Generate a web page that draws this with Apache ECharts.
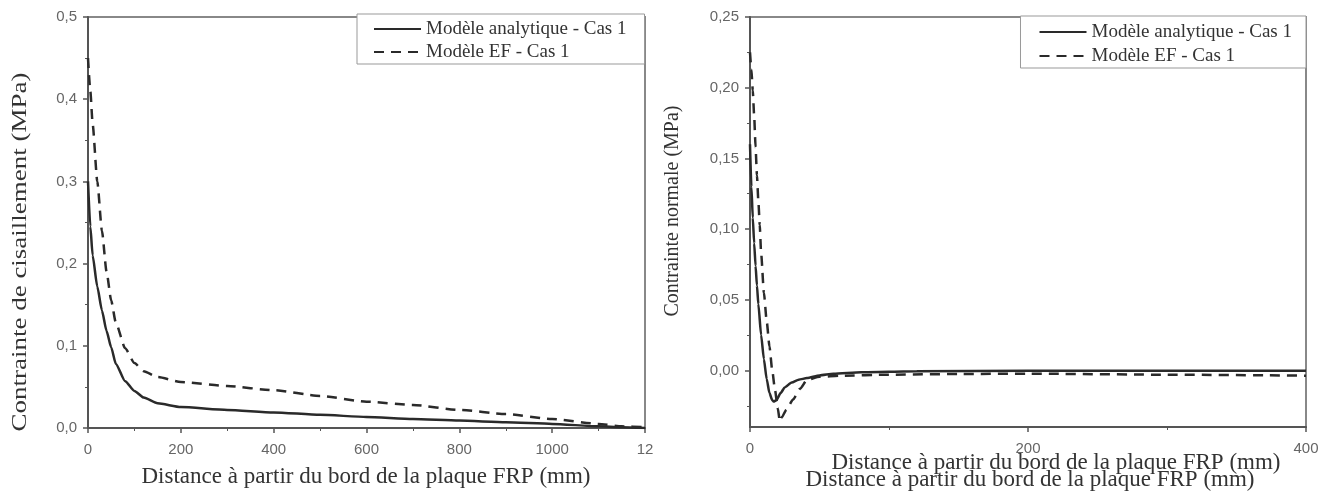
<!DOCTYPE html>
<html>
<head>
<meta charset="utf-8">
<script src="https://cdn.jsdelivr.net/npm/echarts@6/dist/echarts.min.js"></script>
<style>html,body{margin:0;padding:0;background:#fff}#c{width:1336px;height:499px}</style>
</head>
<body>
<div id="c"></div>
<script>
// ---- Data ----
var seriesNames = ['Modèle analytique - Cas 1', 'Modèle EF - Cas 1'];

// Left chart: shear stress vs distance (mm)
var shearX = [0, 5, 10, 20, 30, 40, 50, 60, 80, 100, 120, 150, 200, 300, 400, 500, 600, 700, 800, 900, 1000, 1100, 1150, 1200];
var shearAnalytic = [0.30, 0.245, 0.21, 0.172, 0.143, 0.118, 0.098, 0.078, 0.057, 0.045, 0.037, 0.030, 0.0255, 0.022, 0.019, 0.016, 0.0135, 0.011, 0.009, 0.007, 0.005, 0.002, 0.001, 0.0];
var shearEF = [0.45, 0.41, 0.37, 0.30, 0.24, 0.19, 0.155, 0.128, 0.097, 0.079, 0.069, 0.062, 0.056, 0.051, 0.046, 0.039, 0.032, 0.028, 0.022, 0.017, 0.011, 0.005, 0.002, 0.001];

// Right chart: normal stress vs distance (mm)
var normalAnalyticX = [0, 1, 2, 3, 4, 5, 6, 8, 10, 12, 14, 16, 17, 19, 22, 25, 30, 35, 41, 50, 60, 80, 120, 200, 300, 400];
var normalAnalytic = [0.16, 0.13, 0.108, 0.09, 0.074, 0.06, 0.047, 0.025, 0.008, -0.006, -0.016, -0.021, -0.022, -0.021, -0.016, -0.012, -0.0085, -0.0065, -0.0054, -0.0035, -0.0023, -0.0013, -0.0006, -0.0003, -0.0002, -0.0002];
var normalEFX = [0, 1, 2, 3, 4, 5, 6, 7, 8, 10, 12, 14, 16, 18, 20, 21.5, 23, 26, 31, 36, 41, 50, 65, 100, 150, 200, 300, 400];
var normalEF = [0.225, 0.213, 0.198, 0.18, 0.158, 0.138, 0.12, 0.103, 0.083, 0.055, 0.035, 0.017, 0.0, -0.014, -0.027, -0.036, -0.033, -0.028, -0.0205, -0.013, -0.0066, -0.0045, -0.0037, -0.003, -0.0025, -0.0023, -0.003, -0.0037];

// Tick values
var normalYMajor = [0, 0.05, 0.10, 0.15, 0.20, 0.25];
var normalYMinor = [-0.025, 0.025, 0.075, 0.125, 0.175, 0.225];

// Texts
var xTitle = 'Distance à partir du bord de la plaque FRP (mm)';
var yTitleLeft = 'Contrainte de cisaillement (MPa)';
var yTitleRight = 'Contrainte normale (MPa)';

function pairs(xs, ys) { return xs.map(function (x, i) { return [x, ys[i]]; }); }

var AX = '#555';
var serif = '"Liberation Serif", "DejaVu Serif", serif';
var sans = '"Liberation Sans", Arial, sans-serif';
var tickLabel = { color: '#666', fontSize: 15, fontFamily: sans };

function lineSeries(name, data, xi, yi, dashed) {
  return {
    type: 'line', name: name, xAxisIndex: xi, yAxisIndex: yi,
    data: data, symbol: 'none', smooth: 0.2, smoothMonotone: 'x',
    lineStyle: { color: '#2a2a2a', width: 2.5, type: dashed ? [10, 7] : 'solid' },
    itemStyle: { color: '#2a2a2a' }, z: 3
  };
}

var legendBase = {
  orient: 'vertical', itemWidth: 47, itemHeight: 14, itemGap: 3, itemTextGap: 10,
  borderColor: '#999', borderWidth: 1, backgroundColor: '#fff',
  itemStyle: { opacity: 0 },
  textStyle: { fontFamily: serif, fontSize: 19, lineHeight: 20, color: '#333' },
  data: seriesNames, selectedMode: false
};

var option = {
  animation: false,
  backgroundColor: '#fff',
  grid: [
    { left: 88, right: 691, top: 17, bottom: 71, show: true, borderColor: '#888', borderWidth: 2 },
    { left: 750, right: 30, top: 17, bottom: 72, show: true, borderColor: '#888', borderWidth: 2 }
  ],
  legend: [
    Object.assign({}, legendBase, { left: 357, top: 14, padding: [5, 18, 2, 16] }),
    Object.assign({}, legendBase, { right: 30, top: 16, itemGap: 4, padding: [6, 14, 2, 18] })
  ],
  xAxis: [
    { type: 'value', gridIndex: 0, min: 0, max: 1200, interval: 200,
      axisLine: { onZero: false, lineStyle: { color: AX, width: 2 } },
      axisTick: { length: 5, lineStyle: { color: AX, width: 1.5 } },
      minorTick: { show: true, splitNumber: 2, length: 3, lineStyle: { color: AX } },
      splitLine: { show: false },
      axisLabel: Object.assign({ margin: 14, formatter: function (v) { return v === 1200 ? '12' : String(v); } }, tickLabel) },
    { type: 'value', gridIndex: 1, min: 0, max: 400, interval: 200,
      axisLine: { onZero: false, lineStyle: { color: AX, width: 2 } },
      axisTick: { length: 5, lineStyle: { color: AX, width: 1.5 } },
      minorTick: { show: true, splitNumber: 2, length: 3, lineStyle: { color: AX } },
      splitLine: { show: false },
      axisLabel: Object.assign({ margin: 14 }, tickLabel) }
  ],
  yAxis: [
    { type: 'value', gridIndex: 0, min: 0, max: 0.5, interval: 0.1,
      axisLine: { onZero: false, lineStyle: { color: AX, width: 2 } },
      axisTick: { length: 5, lineStyle: { color: AX, width: 1.5 } },
      minorTick: { show: true, splitNumber: 2, length: 3, lineStyle: { color: AX } },
      splitLine: { show: false },
      axisLabel: Object.assign({ margin: 11, formatter: function (v) { return v.toFixed(1).replace('.', ','); } }, tickLabel) },
    { type: 'value', gridIndex: 1, min: -0.04, max: 0.25, position: 'left',
      axisLine: { onZero: false, lineStyle: { color: AX, width: 2 } },
      axisTick: { length: 5, customValues: normalYMajor, lineStyle: { color: AX, width: 1.5 } },
      splitLine: { show: false },
      axisLabel: Object.assign({ margin: 11, customValues: normalYMajor, formatter: function (v) { return v.toFixed(2).replace('.', ','); } }, tickLabel) },
    { type: 'value', gridIndex: 1, min: -0.04, max: 0.25, position: 'left', offset: 0,
      axisLine: { show: false, onZero: false },
      axisTick: { length: 3, customValues: normalYMinor, lineStyle: { color: AX, width: 1 } },
      splitLine: { show: false },
      axisLabel: { show: false, customValues: normalYMinor } }
  ],
  series: [
    lineSeries(seriesNames[0], pairs(shearX, shearAnalytic), 0, 0, false),
    lineSeries(seriesNames[1], pairs(shearX, shearEF), 0, 0, true),
    lineSeries(seriesNames[0], pairs(normalAnalyticX, normalAnalytic), 1, 1, false),
    lineSeries(seriesNames[1], pairs(normalEFX, normalEF), 1, 1, true)
  ],
  graphic: [
    { type: 'text', x: 366, y: 477, style: { text: xTitle, font: '23px ' + serif, fill: '#333', textAlign: 'center', textVerticalAlign: 'middle' } },
    { type: 'text', x: 1056, y: 463, style: { text: xTitle, font: '23px ' + serif, fill: '#333', textAlign: 'center', textVerticalAlign: 'middle' } },
    { type: 'text', x: 1030, y: 480, style: { text: xTitle, font: '23px ' + serif, fill: '#333', textAlign: 'center', textVerticalAlign: 'middle' } },
    { type: 'text', x: 21, y: 252, rotation: Math.PI / 2, scaleX: 1.35, style: { text: yTitleLeft, font: '20px ' + serif, fill: '#333', textAlign: 'center', textVerticalAlign: 'middle' } },
    { type: 'text', x: 673, y: 211, rotation: Math.PI / 2, style: { text: yTitleRight, font: '20px ' + serif, fill: '#333', textAlign: 'center', textVerticalAlign: 'middle' } }
  ]
};

var chart = echarts.init(document.getElementById('c'), null, { renderer: 'canvas' });
chart.setOption(option);
</script>
</body>
</html>
